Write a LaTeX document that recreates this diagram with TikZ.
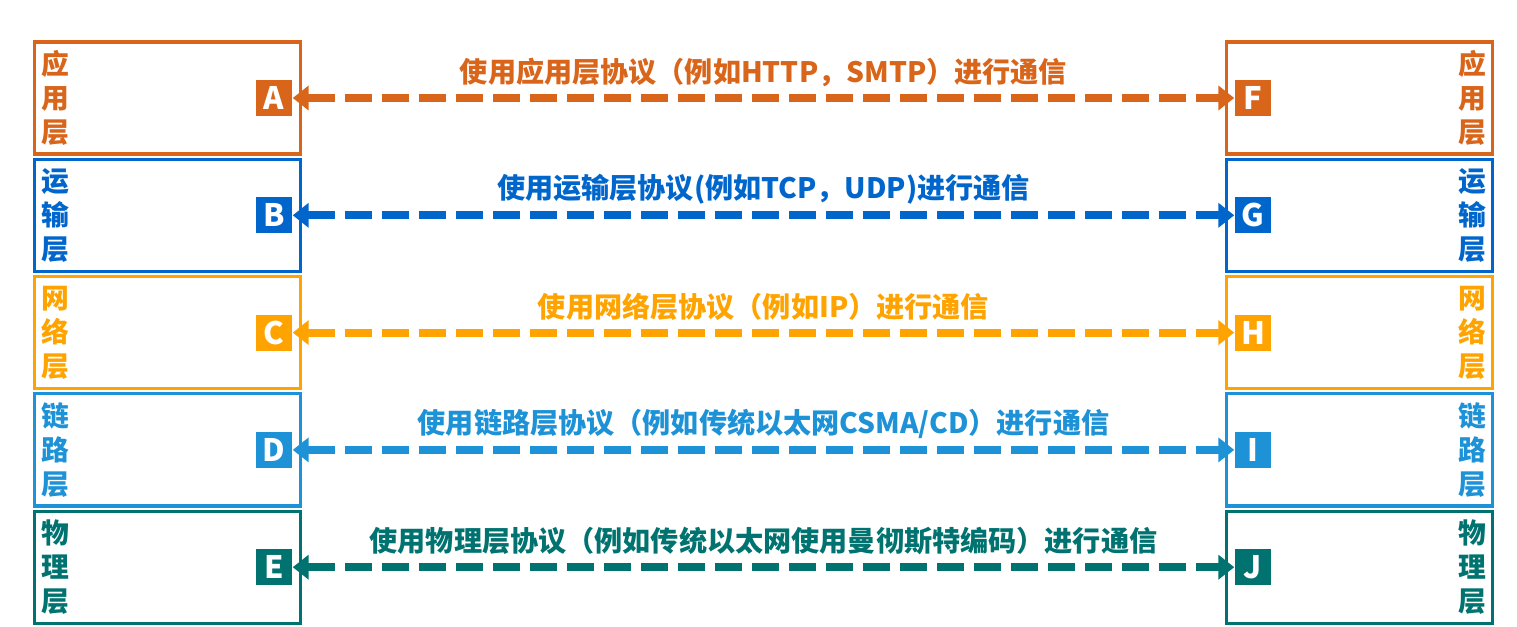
\documentclass[tikz,border=0pt]{standalone}
\usepackage{fontspec}
\setmainfont{Noto Sans CJK SC}
\usepackage{tikz}
\usetikzlibrary{arrows.meta}
\usetikzlibrary{calc}

\definecolor{appcol}{RGB}{217,101,26}
\definecolor{tracol}{RGB}{0,102,204}
\definecolor{netcol}{RGB}{255,163,0}
\definecolor{lnkcol}{RGB}{30,146,214}
\definecolor{phycol}{RGB}{0,115,112}

\begin{document}
\begin{tikzpicture}[x=0.01cm,y=-0.01cm,
    layer/.style={rectangle,draw=#1,line width=0.9pt,minimum width=2.66cm,minimum height=1.12cm,inner sep=0pt},
    tag/.style={rectangle,fill=#1,text=white,font=\bfseries\fontsize{8.8}{10}\selectfont,minimum size=0.36cm,inner sep=0pt},
    side/.style={text=#1,font=\bfseries\fontsize{7.9}{9.6}\selectfont,inner sep=0pt},
    link/.style={draw=#1,line width=2.3pt,dash pattern=on 0.27cm off 0.10cm,
                 {Triangle[length=0.16cm,width=0.24cm]}-{Triangle[length=0.16cm,width=0.24cm]}},
    proto/.style={text=#1,font=\bfseries\fontsize{8}{10}\selectfont,inner sep=0pt},
   ]
  \useasboundingbox (0,0) rectangle (1517,627);
  \foreach \i/\c/\l/\r/\n/\t in {
      0/appcol/A/F/{应\\用\\层}/{使用应用层协议（例如HTTP，SMTP）进行通信},
      1/tracol/B/G/{运\\输\\层}/{使用运输层协议(例如TCP，UDP)进行通信},
      2/netcol/C/H/{网\\络\\层}/{使用网络层协议（例如IP）进行通信},
      3/lnkcol/D/I/{链\\路\\层}/{使用链路层协议（例如传统以太网CSMA/CD）进行通信},
      4/phycol/E/J/{物\\理\\层}/{使用物理层协议（例如传统以太网使用曼彻斯特编码）进行通信}}
  {
    \node[layer=\c] (L\l) at (167.5,98+117.3*\i) {};
    \node[layer=\c] (R\r) at (1359.5,98+117.3*\i) {};
    \node[side=\c,anchor=west,align=left,xshift=0.08cm] at (L\l.west) {\n};
    \node[side=\c,anchor=east,align=right,xshift=-0.07cm] at (R\r.east) {\n};
    \node[tag=\c] (\l) at (274,98+117.3*\i) {\l};
    \node[tag=\c] (\r) at (1253,98+117.3*\i) {\r};
    \draw[link=\c] (\l) -- node[proto=\c,yshift=0.26cm] {\t} (\r);
  }
\end{tikzpicture}
\end{document}
